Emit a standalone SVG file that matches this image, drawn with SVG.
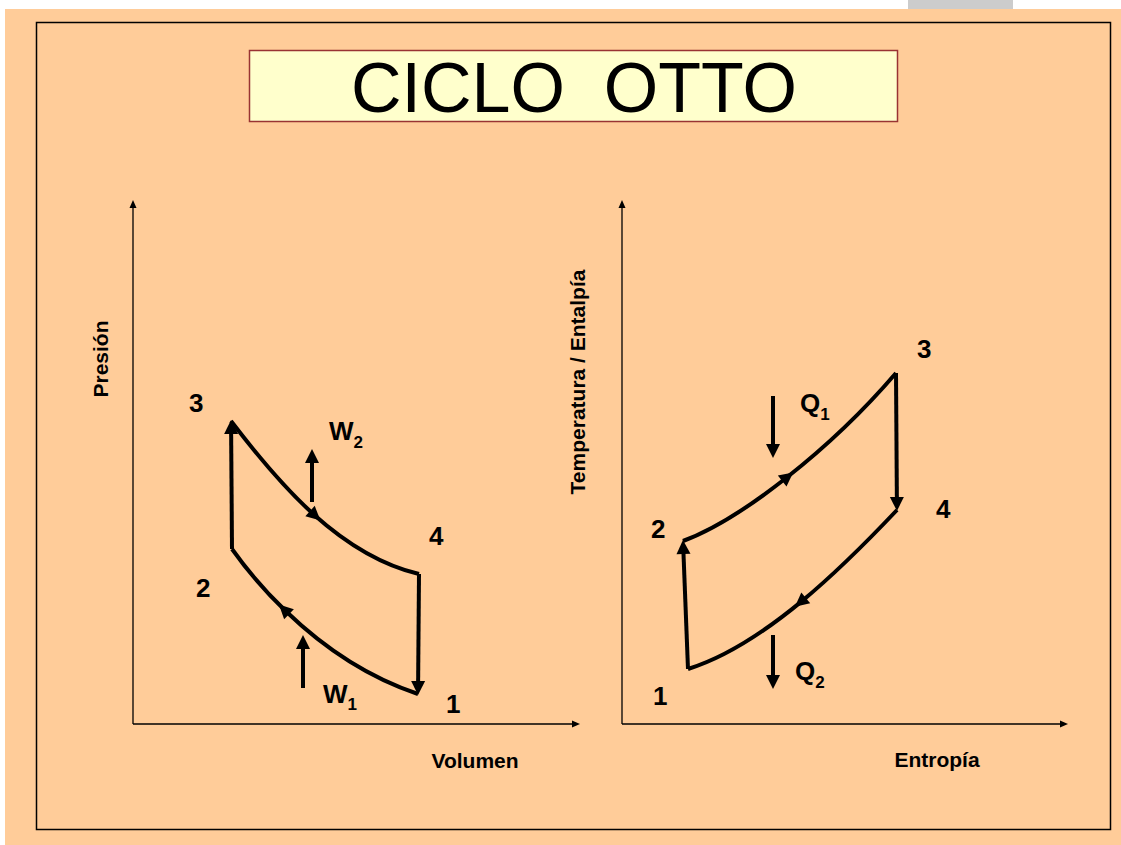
<svg xmlns="http://www.w3.org/2000/svg" width="1121" height="845" viewBox="0 0 1121 845">
<defs>
<style>
.lbl{font-family:"Liberation Sans",Arial,sans-serif;font-weight:bold;fill:#000}
.num{font-size:26px}
.sub{font-size:17px}
.ax{font-size:21px}
.cyc{fill:none;stroke:#000;stroke-width:4;stroke-linejoin:miter}
.axis{fill:none;stroke:#000;stroke-width:1.3}
</style>
<marker id="ah" markerUnits="userSpaceOnUse" markerWidth="14" markerHeight="14" refX="5" refY="7" orient="auto" overflow="visible">
<path d="M0,0 L14,7 L0,14 z" fill="#000"/>
</marker>
<marker id="axh" markerUnits="userSpaceOnUse" markerWidth="8" markerHeight="7" refX="2" refY="3.5" orient="auto" overflow="visible">
<path d="M0,0 L8,3.5 L0,7 z" fill="#000"/>
</marker>
</defs>
<rect x="0" y="0" width="1121" height="845" fill="#FFFFFF"/>
<rect x="908" y="0" width="105" height="9" fill="#CCCCCC"/>
<rect x="5" y="9" width="1116" height="836" fill="#FFCC99"/>
<rect x="36.5" y="22.5" width="1074" height="807" fill="none" stroke="#000" stroke-width="1.5"/>
<g id="title">
<rect x="249.5" y="50.5" width="648" height="71" fill="#FFFFCC" stroke="#993333" stroke-width="1.5"/>
<text x="574" y="112" text-anchor="middle" font-family="'Liberation Sans',Arial,sans-serif" font-size="70" fill="#000" xml:space="preserve">CICLO  OTTO</text>
</g>
<g id="axes">
<path class="axis" d="M133,724 L133,206" marker-end="url(#axh)"/>
<path class="axis" d="M133,724 L574,724" marker-end="url(#axh)"/>
<path class="axis" d="M622,724 L622,206" marker-end="url(#axh)"/>
<path class="axis" d="M622,724 L1062,724" marker-end="url(#axh)"/>
</g>
<g id="axis-labels">
<text class="lbl ax" transform="translate(108,359) rotate(-90)" text-anchor="middle">Presión</text>
<text class="lbl ax" transform="translate(585,382) rotate(-90)" text-anchor="middle">Temperatura / Entalpía</text>
<text class="lbl ax" x="475" y="768" text-anchor="middle">Volumen</text>
<text class="lbl ax" x="937" y="767" text-anchor="middle">Entropía</text>
</g>
<g id="connectors">
<path class="cyc" d="M418,694 C364,676 319.4,643.6 285.4,610.8 C262.7,589 244.8,567 232,549" marker-mid="url(#ah)"/>
<path class="cyc" d="M232,549 L231.1,429" marker-end="url(#ah)"/>
<path class="cyc" d="M231,421 C255.5,453 282.75,486.5 313.75,514.4 C344.75,542.25 379.5,564.5 419,574" marker-mid="url(#ah)"/>
<path class="cyc" d="M419,574 L418.1,686" marker-end="url(#ah)"/>
<path class="cyc" d="M312,502 L312,458" marker-end="url(#ah)"/>
<path class="cyc" d="M303,688 L303,644" marker-end="url(#ah)"/>
<path class="cyc" d="M688,669 L683.3,549" marker-end="url(#ah)"/>
<path class="cyc" d="M683,541 C711.5,530.5 748.25,507.75 786.1,478 C824,448.25 863,411.5 896,373" marker-mid="url(#ah)"/>
<path class="cyc" d="M896,373 L896.9,502" marker-end="url(#ah)"/>
<path class="cyc" d="M897,510 C871,537.5 838,571.25 801.9,601.1 C765.75,631 726.5,657 688,669" marker-mid="url(#ah)"/>
<path class="cyc" d="M773,396 L773,449" marker-end="url(#ah)"/>
<path class="cyc" d="M773,635 L773,680" marker-end="url(#ah)"/>
</g>
<g id="pv-labels">
<text class="lbl num" x="189" y="412">3</text>
<text class="lbl num" x="196" y="597">2</text>
<text class="lbl num" x="429" y="545">4</text>
<text class="lbl num" x="446" y="713">1</text>
<text class="lbl num" x="329" y="440">W<tspan class="sub" dy="8">2</tspan></text>
<text class="lbl num" x="323" y="703">W<tspan class="sub" dy="7">1</tspan></text>
</g>
<g id="ts-labels">
<text class="lbl num" x="917" y="358">3</text>
<text class="lbl num" x="651" y="538">2</text>
<text class="lbl num" x="936" y="518">4</text>
<text class="lbl num" x="653" y="705">1</text>
<text class="lbl num" x="800" y="412">Q<tspan class="sub" dy="8">1</tspan></text>
<text class="lbl num" x="795" y="680">Q<tspan class="sub" dy="8">2</tspan></text>
</g>
</svg>
